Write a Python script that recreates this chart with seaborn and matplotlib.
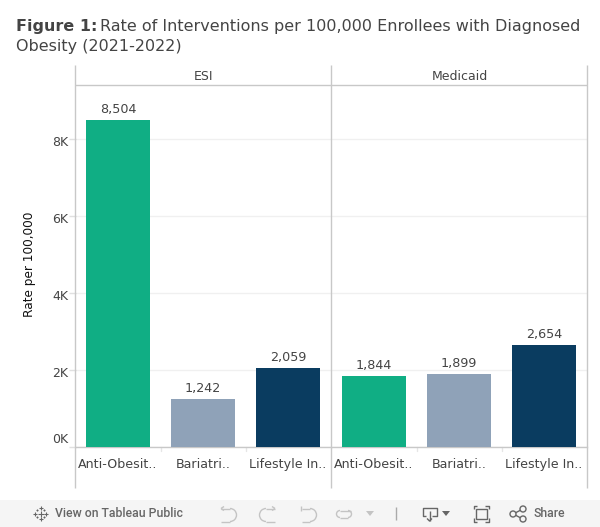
import pandas as pd
import matplotlib.pyplot as plt
import seaborn as sns
from matplotlib.patches import Arc, Circle, Polygon, Rectangle
from matplotlib.transforms import ScaledTranslation

W, H = 600, 527

panels = ["ESI", "Medicaid"]
short_labels = ["Anti-Obesit..", "Bariatri..", "Lifestyle In.."]
esi_rates = [8504, 1242, 2059]
medicaid_rates = [1844, 1899, 2654]
bar_colors = ["#10ae84", "#8fa2b8", "#0a3c60"]
y_ticks = [0, 2000, 4000, 6000, 8000]
y_tick_labels = ["0K", "2K", "4K", "6K", "8K"]

TXT = "#444444"
RULE = "#c8c8c8"
GREY = "#666666"
PALE = "#c4c4c4"

sns.set_theme(style="white")
plt.rcParams["font.family"] = ["DejaVu Sans"]

fig = plt.figure(figsize=(W / 100, H / 100), dpi=100, facecolor="white")


def box(x0, x1, ytop, ybot):
    return [x0 / W, 1 - ybot / H, (x1 - x0) / W, (ybot - ytop) / H]


def draw_panel(ax, rates):
    df = pd.DataFrame({"kind": short_labels, "rate": rates})
    sns.barplot(data=df, x="kind", y="rate", hue="kind", palette=bar_colors,
                legend=False, width=0.753, saturation=1, linewidth=0, ax=ax, zorder=3)
    ax.set_xlim(-0.5, 2.5)
    ax.set_ylim(0, 9415)
    ax.set_xlabel("")
    ax.set_ylabel("")
    ax.set_yticks(y_ticks)
    ax.grid(axis="y", color="#f0f0f0", linewidth=1, zorder=0)
    ax.tick_params(axis="x", length=0, labelsize=9.1, labelcolor=TXT, pad=8)
    sns.despine(ax=ax, left=True, top=True, right=True)
    ax.spines["bottom"].set_color(RULE)
    ax.spines["bottom"].set_linewidth(1)
    for bars in ax.containers:
        ax.bar_label(bars, labels=[f"{v:,.0f}" for v in bars.datavalues],
                     padding=3, fontsize=9.2, color=TXT)
    # tiny separators under the axis between categories
    for b in [0.5, 1.5]:
        ax.plot([b, b], [0, -110], color="#e6e6e6", linewidth=1, clip_on=False)


ax1 = fig.add_axes(box(75.5, 330.5, 85, 447))
ax2 = fig.add_axes(box(331.5, 586.5, 85, 447))
draw_panel(ax1, esi_rates)
draw_panel(ax2, medicaid_rates)

ax1.set_yticklabels(y_tick_labels)
ax1.tick_params(axis="y", left=True, length=5, width=1, color="#e0e0e0",
                labelsize=9, labelcolor=TXT, pad=0)
# tableau keeps 0K above the baseline, the rest sit a little under their grid line
for lab, shift in zip(ax1.get_yticklabels(), [1, -2, -2, -2, -2]):
    lab.set_transform(lab.get_transform() + ScaledTranslation(0, shift / 100, fig.dpi_scale_trans))
ax1.get_yticklabels()[0].set_verticalalignment("bottom")
ax2.tick_params(axis="y", left=False, labelleft=False)

# everything outside the plots is placed in pixels on one overlay
chrome = fig.add_axes([0, 0, 1, 1], zorder=5)
chrome.set_xlim(0, W)
chrome.set_ylim(H, 0)
chrome.axis("off")


def seg(xs, ys, color=GREY, lw=1.0):
    chrome.plot(xs, ys, color=color, linewidth=lw, solid_capstyle="butt")


def arc(x, y, w, h, start, end, color=GREY):
    chrome.add_patch(Arc((x, y), w, h, theta1=start, theta2=end, color=color, linewidth=1))


def tri(x, y, color=GREY):
    chrome.add_patch(Polygon([(x - 4, y - 2), (x + 4, y - 2), (x, y + 3)], color=color, linewidth=0))


# header rule and panel dividers, running past the plotting area
seg([75.2, 587.2], [85, 85], RULE)
for x in [75.2, 331.2, 587.2]:
    seg([x, x], [65, 488], RULE)
chrome.text(203.5, 76, panels[0], fontsize=9, color=TXT, ha="center", va="center")
chrome.text(459.5, 76, panels[1], fontsize=9, color=TXT, ha="center", va="center")
chrome.text(30, 264.5, "Rate per 100,000", fontsize=8.7, color="#111111", rotation=90,
            ha="center", va="center", fontweight="medium")

# title
chrome.text(16, 27, "Figure 1:", fontsize=11.5, fontweight="bold", color=TXT, va="center")
chrome.text(100, 27, "Rate of Interventions per 100,000 Enrollees with Diagnosed",
            fontsize=11.5, color=TXT, va="center")
chrome.text(16, 46, "Obesity (2021-2022)", fontsize=11.5, color=TXT, va="center")

# viewer toolbar
chrome.add_patch(Rectangle((0, 500), W, 27, color="#f5f5f5", linewidth=0, zorder=0))
cx, cy = 40.5, 513.5
for dx, dy, r in [(0, 0, 3), (-5.5, 0, 2), (5.5, 0, 2), (0, -5.5, 2), (0, 5.5, 2),
                  (-3.5, -3.5, 1), (3.5, -3.5, 1), (-3.5, 3.5, 1), (3.5, 3.5, 1)]:
    seg([cx + dx - r, cx + dx + r], [cy + dy, cy + dy], lw=0.8)
    seg([cx + dx, cx + dx], [cy + dy - r, cy + dy + r], lw=0.8)
chrome.text(55, 513.5, "View on Tableau Public", family="Roboto", fontsize=8.85,
            fontweight="medium", color=GREY, va="center")

# undo and redo
seg([221, 230], [508.5, 508.5], PALE)
arc(230, 515, 13, 13, -90, 90, PALE)
seg([221, 230], [521.5, 521.5], PALE)
seg([221, 224], [508.5, 506.5], PALE)
seg([221, 224], [508.5, 510.5], PALE)
seg([275, 266], [508.5, 508.5], PALE)
arc(266, 515, 13, 13, 90, 270, PALE)
seg([275, 266], [521.5, 521.5], PALE)
seg([275, 272], [508.5, 506.5], PALE)
seg([275, 272], [508.5, 510.5], PALE)
seg([300.5, 300.5], [506, 511], PALE)
seg([302, 310], [508.5, 508.5], PALE)
arc(310, 515, 13, 13, -90, 90, PALE)
seg([302, 310], [521.5, 521.5], PALE)
arc(340, 514, 7, 7, 90, 270, PALE)
arc(348, 514, 7, 7, -90, 90, PALE)
seg([340, 351], [510.5, 510.5], PALE)
seg([340, 348], [517.5, 517.5], PALE)
tri(370, 513, PALE)
seg([395.5, 395.5], [507, 520], "#aaaaaa")

# download
seg([426, 422.5, 422.5, 436.5, 436.5, 432], [516, 516, 507.5, 507.5, 516, 516])
seg([429.5, 429.5], [511, 521])
seg([427, 429.5, 432], [518.5, 521, 518.5])
tri(446, 513)

# fullscreen
chrome.add_patch(Rectangle((476, 508.5), 11, 10.5, fill=False, edgecolor=GREY, linewidth=1))
seg([473.5, 473.5, 477], [509, 505.5, 505.5])
seg([485, 488.5, 488.5], [505.5, 505.5, 509])
seg([473.5, 473.5, 477], [518, 521.5, 521.5])
seg([485, 488.5, 488.5], [521.5, 521.5, 518])

# share
for x, y in [(513, 514), (523, 509), (523, 519)]:
    chrome.add_patch(Circle((x, y), 3, fill=False, edgecolor=GREY, linewidth=1))
seg([515.7, 520.3], [512.7, 510.3])
seg([515.7, 520.3], [515.3, 517.7])
chrome.text(533, 513.5, "Share", family="Roboto", fontsize=8.85, fontweight="medium",
            color=GREY, va="center")

fig.savefig("out.png", dpi=100)
